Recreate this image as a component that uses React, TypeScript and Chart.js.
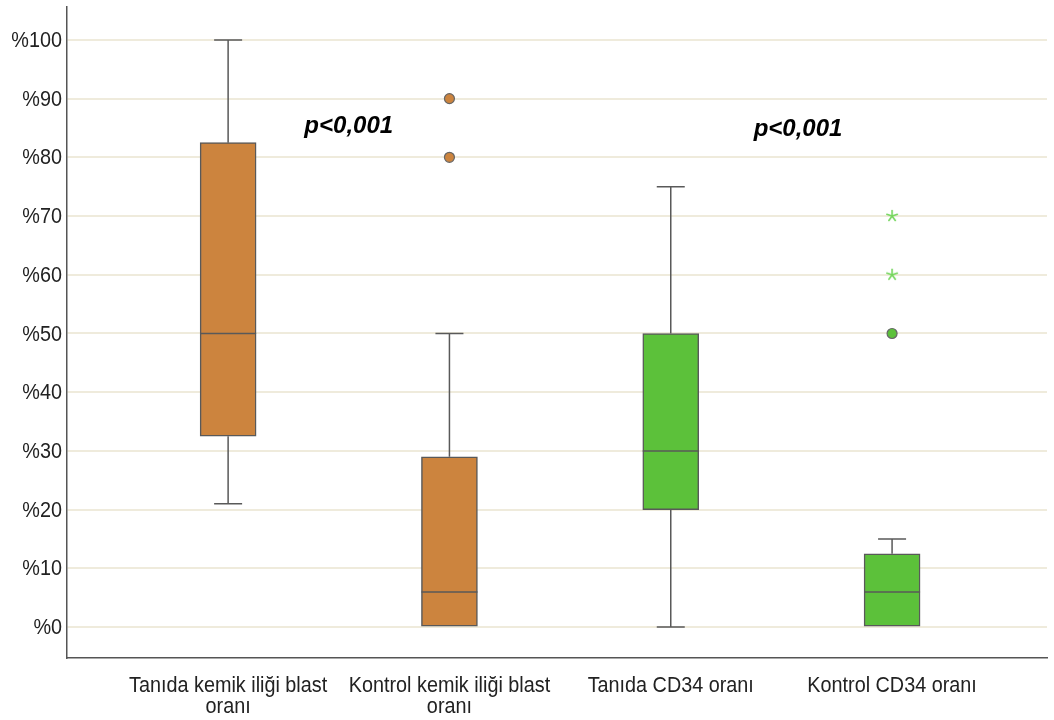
import React, { useEffect, useRef } from "react";
import { Chart, registerables } from "chart.js";

Chart.register(...registerables);

const categories: string[][] = [
  ["Tanıda kemik iliği blast", "oranı"],
  ["Kontrol kemik iliği blast", "oranı"],
  ["Tanıda CD34 oranı"],
  ["Kontrol CD34 oranı"],
];
const mins = [21, 0, 0, 0];
const q1s = [32.5, 0, 20, 0];
const medians = [50, 6, 30, 6];
const q3s = [82.5, 29, 50, 12.5];
const maxs = [100, 50, 75, 15];
const boxColors = ["#cc843e", "#cc843e", "#5cc13a", "#5cc13a"];
const outlierCats = [1, 1, 3];
const outlierVals = [90, 80, 50];
const extremeCats = [3, 3];
const extremeVals = [70, 60];
const yTicks = [0, 10, 20, 30, 40, 50, 60, 70, 80, 90, 100];
const pLabels = ["p<0,001", "p<0,001"];
const pX = [0.545, 2.575];
const pY = [85.2, 84.8];

const FONT = "'Liberation Sans', Arial, sans-serif";
const SX = 0.9; // horizontal condensing of axis text

function makeAsterisk(): HTMLCanvasElement {
  const c = document.createElement("canvas");
  c.width = 14;
  c.height = 14;
  const g = c.getContext("2d")!;
  g.strokeStyle = "#74d65c";
  g.lineWidth = 1.6;
  g.lineCap = "round";
  const r = 5.5;
  for (let k = 0; k < 5; k++) {
    const a = -Math.PI / 2 + (k * 2 * Math.PI) / 5;
    g.beginPath();
    g.moveTo(7, 7);
    g.lineTo(7 + r * Math.cos(a), 7 + r * Math.sin(a));
    g.stroke();
  }
  return c;
}

const boxPlugin = {
  id: "boxExtras",
  afterDatasetsDraw(chart: any) {
    const ctx = chart.ctx;
    const xs = chart.scales.x;
    const ys = chart.scales.y;
    ctx.save();
    ctx.strokeStyle = "#595959";
    ctx.lineWidth = 1.5;
    for (let i = 0; i < categories.length; i++) {
      const cx = xs.getPixelForValue(i);
      const half = 28;
      const capHalf = 14;
      const my = ys.getPixelForValue(medians[i]);
      ctx.beginPath();
      ctx.moveTo(cx - half, my);
      ctx.lineTo(cx + half, my);
      ctx.stroke();
      if (maxs[i] > q3s[i]) {
        const y3 = ys.getPixelForValue(q3s[i]);
        const yM = ys.getPixelForValue(maxs[i]);
        ctx.beginPath();
        ctx.moveTo(cx, y3);
        ctx.lineTo(cx, yM);
        ctx.moveTo(cx - capHalf, yM);
        ctx.lineTo(cx + capHalf, yM);
        ctx.stroke();
      }
      if (mins[i] < q1s[i]) {
        const y1 = ys.getPixelForValue(q1s[i]);
        const ym = ys.getPixelForValue(mins[i]);
        ctx.beginPath();
        ctx.moveTo(cx, y1);
        ctx.lineTo(cx, ym);
        ctx.moveTo(cx - capHalf, ym);
        ctx.lineTo(cx + capHalf, ym);
        ctx.stroke();
      }
    }
    ctx.fillStyle = "#000";
    ctx.font = `italic bold 24px ${FONT}`;
    ctx.textAlign = "center";
    ctx.textBaseline = "middle";
    for (let i = 0; i < pLabels.length; i++) {
      ctx.fillText(pLabels[i], xs.getPixelForValue(pX[i]), ys.getPixelForValue(pY[i]));
    }
    ctx.restore();
  },
  afterDraw(chart: any) {
    const ctx = chart.ctx;
    const xs = chart.scales.x;
    const ys = chart.scales.y;
    ctx.save();
    ctx.fillStyle = "#222";
    ctx.font = `22px ${FONT}`;
    ctx.scale(SX, 1);
    ctx.textAlign = "right";
    ctx.textBaseline = "middle";
    const right = xs.left - 5;
    yTicks.forEach((v) => {
      ctx.fillText("%" + v, right / SX, ys.getPixelForValue(v) + 1);
    });
    ctx.textAlign = "center";
    ctx.textBaseline = "alphabetic";
    const base = ys.bottom + 34;
    categories.forEach((lines, i) => {
      const cx = xs.getPixelForValue(i);
      lines.forEach((line, j) => {
        ctx.fillText(line, cx / SX, base + j * 21);
      });
    });
    ctx.restore();
  },
};

export default function App() {
  const ref = useRef<HTMLCanvasElement>(null);
  useEffect(() => {
    if (!ref.current) return;
    const chart = new Chart(ref.current, {
      type: "bar",
      data: {
        datasets: [
          {
            type: "bar",
            data: categories.map((_, i) => ({ x: i, y: [q1s[i], q3s[i]] })) as any,
            backgroundColor: boxColors,
            borderColor: "#595959",
            borderWidth: 1.5,
            borderSkipped: false,
            barThickness: 56,
            grouped: false,
          } as any,
          {
            type: "scatter",
            data: outlierCats.map((c, i) => ({ x: c, y: outlierVals[i] })),
            pointStyle: "circle",
            pointRadius: 5,
            pointBackgroundColor: outlierCats.map((c) => boxColors[c]),
            pointBorderColor: "#666",
            pointBorderWidth: 1.2,
          } as any,
          {
            type: "scatter",
            data: extremeCats.map((c, i) => ({ x: c, y: extremeVals[i] })),
            pointStyle: makeAsterisk(),
            pointRadius: 6,
          } as any,
        ],
      },
      options: {
        animation: false,
        responsive: false,
        maintainAspectRatio: false,
        layout: { padding: { top: 5, right: 2, left: 0, bottom: 0 } },
        plugins: {
          legend: { display: false },
          tooltip: { enabled: false },
        },
        scales: {
          x: {
            type: "linear",
            offset: false,
            min: -0.728,
            max: 3.7,
            afterBuildTicks: (axis: any) => {
              axis.ticks = categories.map((_, i) => ({ value: i }));
            },
            afterFit: (axis: any) => {
              axis.height = 62;
              axis.paddingLeft = 0;
              axis.paddingRight = 0;
            },
            ticks: { display: false },
            grid: { display: false, drawTicks: false },
            border: { display: true, color: "#555", width: 1.5 },
          },
          y: {
            type: "linear",
            min: -5.26,
            max: 105.6,
            afterBuildTicks: (axis: any) => {
              axis.ticks = yTicks.map((v) => ({ value: v }));
            },
            afterFit: (axis: any) => {
              axis.width = 67;
              axis.paddingTop = 0;
              axis.paddingBottom = 0;
            },
            ticks: { display: false },
            grid: { color: "#efebdc", lineWidth: 2, drawTicks: false },
            border: { display: true, color: "#555", width: 1.5 },
          },
        },
      },
      plugins: [boxPlugin],
    } as any);
    return () => chart.destroy();
  }, []);
  return (
    <div style={{ position: "absolute", left: 0, top: 0, width: 1054, height: 720, background: "#fff" }}>
      <canvas ref={ref} width={1054} height={720} style={{ width: 1054, height: 720 }} />
    </div>
  );
}
